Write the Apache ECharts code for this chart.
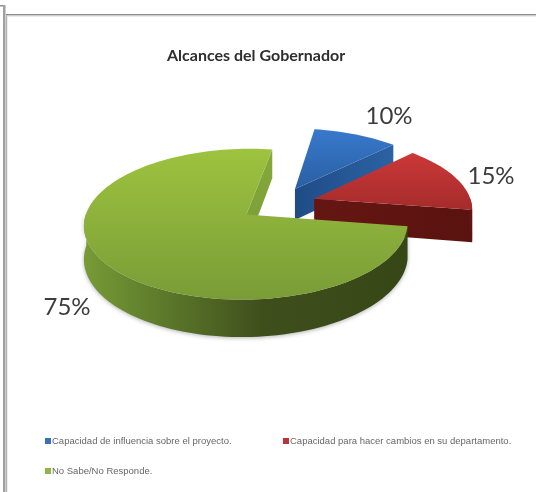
<!DOCTYPE html>
<html><head><meta charset="utf-8">
<style>html,body{margin:0;padding:0;background:#fff}#c{width:536px;height:492px;filter:blur(0.4px)}</style>
<script src="https://cdn.jsdelivr.net/npm/echarts@6/dist/echarts.min.js"></script>
</head><body><div id="c"></div>
<script>
const chartTitle = 'Alcances del Gobernador';
const categories = ['Capacidad de influencia sobre el proyecto.', 'Capacidad para hacer cambios en su departamento.', 'No Sabe/No Responde.'];
const values = [10, 15, 75];
const legendColors = ['#3a70b8', '#b8343a', '#8fb63e'];
const labelPositions = [[389, 116], [491, 176], [67, 307]];
const topStops = [
  [[0, '#3879cc'], [1, '#2a5fa3']],
  [[0, '#cc3838'], [1, '#a52b2b']],
  [[0, '#9dc33f'], [1, '#7a9c37']]
];
const rimStops = [
  [[0, '#2a5f9f'], [1, '#1f4a80']],
  [[0, '#6a1712'], [1, '#571210']],
  [[0, '#789a36'], [0.22, '#5f7d2c'], [0.55, '#3f4f1c'], [1, '#364716']]
];
const faceStops = [
  [[0, '#1f4c86'], [1, '#2b62a4']],
  [[0, '#651612'], [1, '#5a1310']],
  [[0, '#7a9c38'], [1, '#86a93b']]
];

const startDeg = 9, cx = 278, cy = 204, rx = 157.6, ry = 71.5, persp = 0.127, explode = 0.2435, depth = 32;
const total = values.reduce((a, b) => a + b, 0);

function project(X, Z, down) {
  const s = 1 / (1 - persp * Z);
  return [cx + rx * X * s, cy + ry * Z * s + (down ? depth * s : 0)];
}
function slicePts(a0, a1, ox, oz, down) {
  const pts = [], n = Math.max(4, Math.ceil((a1 - a0) / 2));
  for (let i = 0; i <= n; i++) {
    const a = (a0 + (a1 - a0) * i / n) * Math.PI / 180;
    pts.push(project(ox + Math.sin(a), oz - Math.cos(a), down));
  }
  return pts;
}
function lin(x, y, x2, y2, stops) {
  return { type: 'linear', x, y, x2, y2, colorStops: stops.map(s => ({ offset: s[0], color: s[1] })) };
}
function renderSlice(idx) {
  let before = 0;
  for (let i = 0; i < idx; i++) before += values[i];
  const a0 = startDeg + before / total * 360, a1 = a0 + values[idx] / total * 360;
  const mid = (a0 + a1) / 2 * Math.PI / 180;
  const ox = explode * Math.sin(mid), oz = -explode * Math.cos(mid);
  const apex = project(ox, oz), apexD = project(ox, oz, true);
  const arc = slicePts(a0, a1, ox, oz), arcD = slicePts(a0, a1, ox, oz, true);
  const children = [];
  const quad = (pts, fill, extra) => children.push({ type: 'polygon', shape: { points: pts }, style: Object.assign({ fill }, extra || {}) });
  const last = arc.length - 1;
  // cut face that is seen from the front
  quad([apex, arc[last], arcD[last], apexD], idx === 2 ? lin(0, 1, 1, 0, faceStops[idx]) : lin(0, 0, 1, 0, faceStops[idx]));
  // outer rim, visible part
  const fi = [], fb = [];
  for (let i = 0; i < arc.length; i++) {
    const a = (a0 + (a1 - a0) * i / last) % 360;
    if (a >= 88 && a <= 272) { fi.push(arc[i]); fb.unshift(arcD[i]); }
  }
  if (fi.length > 1) quad(fi.concat(fb), lin(0, 0, 1, 0, rimStops[idx]), idx === 2 ? { shadowColor: 'rgba(0,0,0,0.3)', shadowBlur: 4, shadowOffsetY: 1 } : null);
  // top surface
  quad([apex].concat(arc), lin(0, 0, 0, 1, topStops[idx]));
  // percentage label
  children.push({ type: 'text', style: {
    text: values[idx] + '%', x: labelPositions[idx][0], y: labelPositions[idx][1],
    align: 'center', verticalAlign: 'middle', fill: '#3c3c3c', fontSize: 24, fontFamily: 'Lato'
  } });
  return { type: 'group', children };
}
const legendSlots = [{ left: 45, top: 436 }, { left: 283, top: 436 }, { left: 45, top: 466 }];
const chart = echarts.init(document.getElementById('c'), null, { renderer: 'canvas' });
chart.setOption({
  animation: false,
  backgroundColor: '#fff',
  title: { text: chartTitle, left: 162, top: 43,
    textStyle: { fontFamily: 'Lato', fontWeight: 'bold', fontSize: 16, color: '#2e2e2e' } },
  legend: categories.map((c, i) => ({
    data: [c], left: legendSlots[i].left, top: legendSlots[i].top, icon: 'rect',
    itemWidth: 6, itemHeight: 6, itemGap: 0, padding: 0, selectedMode: false,
    textStyle: { fontFamily: 'Liberation Sans', fontSize: 9.5, color: '#666', padding: [0, 0, 0, -4] }
  })),
  graphic: [
    { type: 'rect', shape: { x: 0, y: 5, width: 5, height: 1.5 }, style: { fill: '#8f8f8f' } },
    { type: 'rect', shape: { x: 3, y: 5, width: 2.5, height: 487 }, style: { fill: '#a0a0a0' } },
    { type: 'rect', shape: { x: 6, y: 14, width: 1.2, height: 478 }, style: { fill: '#b0b0b0' } },
    { type: 'rect', shape: { x: 6, y: 14, width: 530, height: 1.4 }, style: { fill: '#8c8c8c' } },
    { type: 'rect', shape: { x: 6, y: 15.4, width: 530, height: 1 }, style: { fill: '#d8d8d8' } }
  ],
  series: categories.map((c, i) => ({
    type: 'custom', name: c, coordinateSystem: 'none', clip: false,
    itemStyle: { color: legendColors[i] }, z: 2 + i,
    data: [values[i]],
    renderItem: () => renderSlice(i)
  }))
});
</script></body></html>
